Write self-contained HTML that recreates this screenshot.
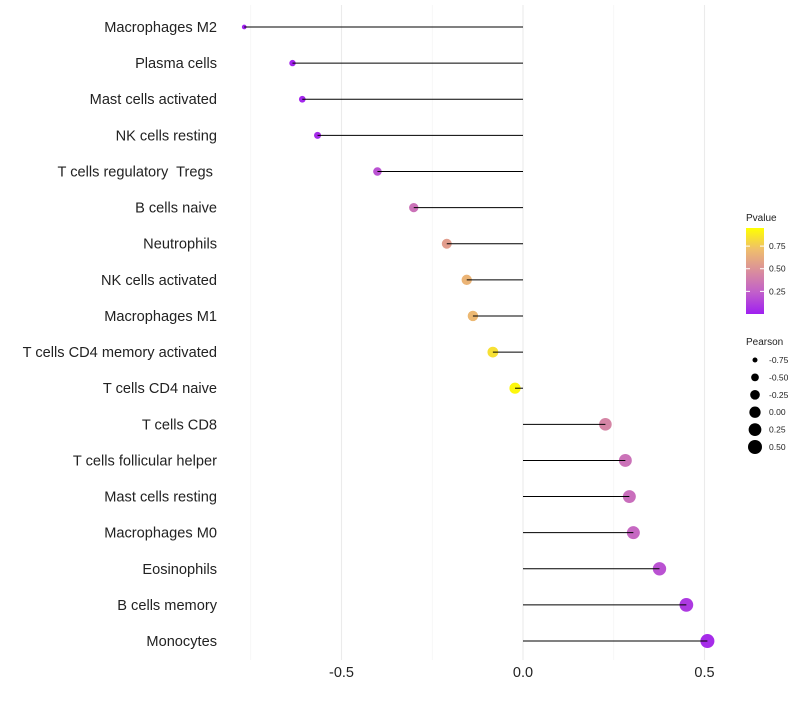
<!DOCTYPE html>
<html><head><meta charset="utf-8"><style>
body{margin:0;background:#fff;font-family:"Liberation Sans",sans-serif}
text{white-space:pre}
</style></head><body>
<svg id="c" width="800" height="700" xmlns="http://www.w3.org/2000/svg"></svg>
<script>
const categories=["Macrophages M2","Plasma cells","Mast cells activated","NK cells resting","T cells regulatory  Tregs ","B cells naive","Neutrophils","NK cells activated","Macrophages M1","T cells CD4 memory activated","T cells CD4 naive","T cells CD8","T cells follicular helper","Mast cells resting","Macrophages M0","Eosinophils","B cells memory","Monocytes"];
const pearson=[-0.768,-0.635,-0.608,-0.566,-0.401,-0.301,-0.21,-0.155,-0.138,-0.083,-0.022,0.227,0.282,0.293,0.304,0.376,0.45,0.508];
const pvalue=[0.01,0.02,0.03,0.05,0.2,0.35,0.58,0.7,0.72,0.88,0.97,0.45,0.35,0.33,0.3,0.2,0.1,0.05];
const xTicks=[-0.5,0,0.5];
const xTickLabels=["-0.5","0.0","0.5"];
const pTicks=[0.25,0.5,0.75];
const sizeTicks=[-0.75,-0.5,-0.25,0,0.25,0.5];
const sizeLabels=["-0.75","-0.50","-0.25","0.00","0.25","0.50"];

const svg=document.getElementById('c');const NS="http://www.w3.org/2000/svg";
function mk(t,a,p){const e=document.createElementNS(NS,t);for(const k in a)e.setAttribute(k,a[k]);(p||svg).appendChild(e);return e;}
const X=v=>523+v*363;
const Y=i=>27+i*36.12;
const R=v=>Math.sqrt(6.25+(v+0.75)*34.2);
const stops=[[0,[159,31,240]],[0.25,[193,95,203]],[0.5,[218,142,156]],[0.75,[239,190,108]],[1,[255,255,0]]];
function col(p){p=Math.max(0,Math.min(1,p));for(let i=1;i<stops.length;i++){if(p<=stops[i][0]){const a=stops[i-1],b=stops[i],t=(p-a[0])/(b[0]-a[0]);return 'rgb('+a[1].map((c,j)=>Math.round(c+(b[1][j]-c)*t)).join(',')+')';}}}
[-0.75,-0.25,0.25].forEach(v=>{const g=mk('line',{x1:X(v),x2:X(v),y1:5,y2:660,stroke:'#f2f2f2','stroke-width':0.6});

});
xTicks.forEach((v,i)=>{const g=mk('line',{x1:X(v),x2:X(v),y1:5,y2:660,stroke:'#ebebeb','stroke-width':1.1});


const t=mk('text',{x:X(v),y:677,'text-anchor':'middle','font-size':14.5,fill:'#222'});t.textContent=xTickLabels[i];

});
categories.forEach((c,i)=>{const y=Y(i);
const l=mk('text',{x:217,y:y+5,'text-anchor':'end','font-size':14.6,fill:'#222'});l.textContent=c;


const p=mk('circle',{cx:X(pearson[i]),cy:y,r:R(pearson[i]),fill:col(pvalue[i])});


const s=mk('line',{x1:X(0),x2:X(pearson[i]),y1:y,y2:y,stroke:'#000','stroke-width':1});

});
const lt=mk('text',{x:746,y:221,'font-size':10,fill:'#222'});lt.textContent='Pvalue';


const defs=mk('defs',{});const gr=mk('linearGradient',{id:'g',x1:0,y1:1,x2:0,y2:0},defs);
stops.forEach(s=>mk('stop',{offset:s[0],'stop-color':'rgb('+s[1].join(',')+')'},gr));
const pb=mk('rect',{x:746,y:228,width:18,height:86,fill:'url(#g)'});


const PY=p=>314-(p-0.0)/0.95*86;
pTicks.forEach(p=>{mk('line',{x1:746,x2:750,y1:PY(p),y2:PY(p),stroke:'#fff'});mk('line',{x1:760,x2:764,y1:PY(p),y2:PY(p),stroke:'#fff'});
const t=mk('text',{x:769,y:PY(p)+3,'font-size':8.5,fill:'#222'});t.textContent=p.toFixed(2);

});
const st=mk('text',{x:746,y:345,'font-size':10,fill:'#222'});st.textContent='Pearson';


sizeTicks.forEach((v,i)=>{const y=360+i*17.4;
const c=mk('circle',{cx:755,cy:y,r:R(v),fill:'#000'});


const t=mk('text',{x:769,y:y+3,'font-size':8.5,fill:'#222'});t.textContent=sizeLabels[i];

});
</script>
</body></html>
